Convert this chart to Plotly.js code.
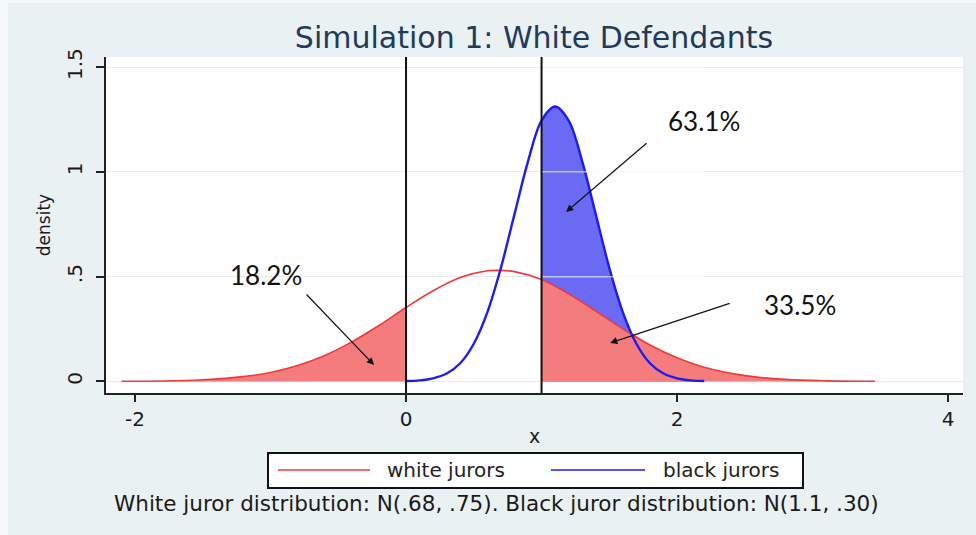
<!DOCTYPE html>
<html>
<head>
<meta charset="utf-8">
<script src="https://cdn.plot.ly/plotly-3.0.1.min.js"></script>
<style>html,body{margin:0;padding:0;background:#eaf1f3;}#chart{width:976px;height:535px;}</style>
</head>
<body>
<div id="chart"></div>
<script>
// ---- data ----
const xWhite = [-2.1,-1.8,-1.5,-1.2,-1.0,-0.8,-0.6,-0.4,-0.2,0,0.2,0.4,0.6,0.68,0.8,1.0,1.2,1.4,1.6,1.8,2.0,2.2,2.5,2.8,3.1,3.46];
const densWhite = [0.001,0.002,0.008,0.023,0.043,0.076,0.124,0.189,0.267,0.353,0.433,0.496,0.528,0.530,0.524,0.486,0.418,0.336,0.251,0.174,0.113,0.068,0.028,0.010,0.003,0.001];
const xBlack = [0,0.1,0.2,0.3,0.4,0.5,0.6,0.7,0.8,0.9,1.0,1.1,1.2,1.3,1.4,1.5,1.6,1.7,1.8,1.9,2.0,2.1,2.2];
const densBlack = [0.002,0.005,0.015,0.038,0.087,0.180,0.330,0.542,0.797,1.050,1.245,1.312,1.245,1.050,0.797,0.542,0.330,0.180,0.087,0.038,0.015,0.005,0.002];
const seriesNames = ['white jurors','black jurors'];
const cutoffs = [0, 1];
const xTicks = [-2, 0, 2, 4];
const xTickText = ['-2', '0', '2', '4'];
const yTicks = [0, 0.5, 1, 1.5];
const yTickText = ['0', '.5', '1', '1.5'];
const pctLabels = ['18.2%', '63.1%', '33.5%'];
const titleText = 'Simulation 1: White Defendants';
const noteText = 'White juror distribution: N(.68, .75). Black juror distribution: N(1.1, .30)';

// ---- styles ----
const RED = '#f03a3a', BLUE = '#1c1cf0';
const RED_FILL = '#f47c7c', BLUE_FILL = '#6a6af4';
const FONT = 'DejaVu Sans';

function subset(xs, ys, test) {
  const ox = [], oy = [];
  xs.forEach((v, i) => { if (test(v)) { ox.push(v); oy.push(ys[i]); } });
  return {x: ox, y: oy};
}
const wLeft = subset(xWhite, densWhite, v => v <= cutoffs[0]);
const wRight = subset(xWhite, densWhite, v => v >= cutoffs[1]);
const bRight = subset(xBlack, densBlack, v => v >= cutoffs[1]);

const traces = [
  {x: wLeft.x, y: wLeft.y, type: 'scatter', mode: 'lines', line: {width: 0, shape: 'spline', color: RED_FILL}, fill: 'tozeroy', fillcolor: RED_FILL, hoverinfo: 'skip', showlegend: false},
  {x: bRight.x, y: bRight.y, type: 'scatter', mode: 'lines', line: {width: 0, shape: 'spline', color: BLUE_FILL}, fill: 'tozeroy', fillcolor: BLUE_FILL, hoverinfo: 'skip', showlegend: false},
  {x: wRight.x, y: wRight.y, type: 'scatter', mode: 'lines', line: {width: 0, shape: 'spline', color: RED_FILL}, fill: 'tozeroy', fillcolor: RED_FILL, hoverinfo: 'skip', showlegend: false},
  {x: xWhite, y: densWhite, type: 'scatter', mode: 'lines', name: seriesNames[0], line: {color: RED, width: 1.6, shape: 'spline'}, showlegend: false},
  {x: xBlack, y: densBlack, type: 'scatter', mode: 'lines', name: seriesNames[1], line: {color: BLUE, width: 2.4, shape: 'spline'}, showlegend: false}
];

// plot area in pixels: left 106, right 963, top 57, bottom 393
const L = 106, R = 963, T = 57, B = 393;
const px = v => (v - L) / (R - L);
const py = v => (B - v) / (B - T);

const shapes = [];
// frame artifacts
shapes.push({type: 'rect', xref: 'paper', yref: 'paper', x0: px(0), x1: px(8), y0: py(535), y1: py(0), fillcolor: '#f6f9fa', line: {width: 0}, layer: 'below'});
shapes.push({type: 'rect', xref: 'paper', yref: 'paper', x0: px(0), x1: px(976), y0: py(3), y1: py(0), fillcolor: '#f6f9fa', line: {width: 0}, layer: 'below'});
// gridlines showing through the blue area
yTicks.forEach(v => {
  if (v > 0) shapes.push({type: 'line', xref: 'x', yref: 'y', x0: cutoffs[1], x1: xBlack[xBlack.length - 1], y0: v, y1: v, line: {color: 'rgba(255,255,255,0.6)', width: 1.5}, layer: 'above'});
});
// cutoff lines
cutoffs.forEach(c => shapes.push({type: 'line', xref: 'x', yref: 'paper', x0: c, x1: c, y0: 0, y1: 1, line: {color: '#111', width: 2}, layer: 'above'}));
// legend box
shapes.push({type: 'rect', xref: 'paper', yref: 'paper', x0: px(268), x1: px(803), y0: py(488), y1: py(453), fillcolor: 'white', line: {color: '#111', width: 2}});
shapes.push({type: 'line', xref: 'paper', yref: 'paper', x0: px(278), x1: px(370), y0: py(470), y1: py(470), line: {color: RED, width: 1.6}});
shapes.push({type: 'line', xref: 'paper', yref: 'paper', x0: px(551), x1: px(645), y0: py(470), y1: py(470), line: {color: BLUE, width: 1.6}});

const annFont = {family: 'Lato', size: 26, color: '#111'};
const annotations = [
  // arrows (head -> tail)
  {x: -0.236, y: 0.079, ax: -0.745, ay: 0.422, axref: 'x', ayref: 'y', xref: 'x', yref: 'y', text: '', showarrow: true, arrowhead: 2, arrowsize: 1.2, arrowwidth: 1.2, arrowcolor: '#111'},
  {x: 1.181, y: 0.809, ax: 1.786, ay: 1.143, axref: 'x', ayref: 'y', xref: 'x', yref: 'y', text: '', showarrow: true, arrowhead: 2, arrowsize: 1.2, arrowwidth: 1.2, arrowcolor: '#111'},
  {x: 1.506, y: 0.184, ax: 2.399, ay: 0.375, axref: 'x', ayref: 'y', xref: 'x', yref: 'y', text: '', showarrow: true, arrowhead: 2, arrowsize: 1.2, arrowwidth: 1.2, arrowcolor: '#111'},
  // percentage labels
  {x: -1.033, y: 0.508, xref: 'x', yref: 'y', text: pctLabels[0], showarrow: false, font: annFont},
  {x: 2.199, y: 1.243, xref: 'x', yref: 'y', text: pctLabels[1], showarrow: false, font: annFont},
  {x: 2.908, y: 0.365, xref: 'x', yref: 'y', text: pctLabels[2], showarrow: false, font: annFont},
  // legend texts
  {x: px(385), y: py(470), xref: 'paper', yref: 'paper', xanchor: 'left', yanchor: 'middle', text: seriesNames[0], showarrow: false, font: {family: FONT, size: 20, color: '#222'}},
  {x: px(661), y: py(470), xref: 'paper', yref: 'paper', xanchor: 'left', yanchor: 'middle', text: seriesNames[1], showarrow: false, font: {family: FONT, size: 20, color: '#222'}},
  // note
  {x: px(496), y: py(503), xref: 'paper', yref: 'paper', xanchor: 'center', yanchor: 'middle', text: noteText, showarrow: false, font: {family: FONT, size: 21.5, color: '#1a1a1a'}}
];

const layout = {
  width: 976, height: 535,
  margin: {l: L, r: 976 - R, t: T, b: 535 - B, pad: 0},
  paper_bgcolor: '#eaf1f3',
  plot_bgcolor: '#ffffff',
  showlegend: false,
  title: {text: titleText, font: {family: FONT, size: 30, color: '#1f3a5a'}, x: 534 / 976, xanchor: 'center', xref: 'container', y: 1 - 37 / 535, yanchor: 'middle', yref: 'container'},
  xaxis: {
    range: [-2.214, 4.11], tickvals: xTicks, ticktext: xTickText,
    ticks: 'outside', ticklen: 7, tickwidth: 2, tickcolor: '#222',
    showline: true, linecolor: '#222', linewidth: 2, mirror: false,
    showgrid: false, zeroline: false,
    tickfont: {family: FONT, size: 20, color: '#1a1a1a'},
    title: {text: 'x', font: {family: FONT, size: 19, color: '#1a1a1a'}, standoff: 0}
  },
  yaxis: {
    range: [-0.055, 1.548], tickvals: yTicks, ticktext: yTickText, tickangle: -90,
    ticks: 'outside', ticklen: 8, tickwidth: 2, tickcolor: '#222',
    showline: true, linecolor: '#222', linewidth: 2,
    showgrid: true, gridcolor: '#ebebeb', gridwidth: 1, zeroline: false,
    tickfont: {family: FONT, size: 20, color: '#1a1a1a'},
    ticklabelstandoff: 6,
    title: {text: 'density', font: {family: FONT, size: 17, color: '#1a1a1a'}, standoff: 8}
  },
  shapes: shapes,
  annotations: annotations
};

Plotly.newPlot('chart', traces, layout, {displayModeBar: false, staticPlot: true});
</script>
</body>
</html>
